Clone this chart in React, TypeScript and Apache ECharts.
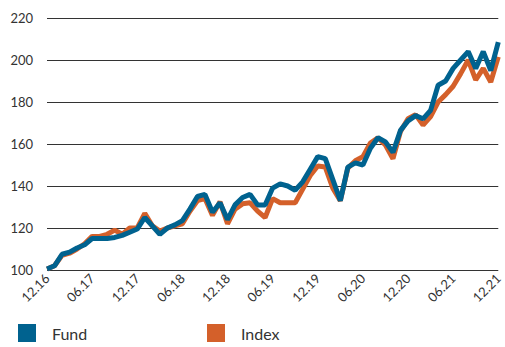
import React, { useEffect, useRef } from "react";
import * as echarts from "echarts";

const months: string[] = (() => {
  const out: string[] = [];
  for (let i = 0; i <= 60; i++) {
    const m = ((11 + i) % 12) + 1;
    const y = 16 + Math.floor((11 + i) / 12);
    out.push(String(m).padStart(2, "0") + "." + String(y));
  }
  return out;
})();

const fund: number[] = [
  100.5, 102, 107.5, 108.5, 110.5, 112, 115, 115, 115, 115.5,
  116.5, 118, 119.5, 125, 121, 117, 120, 121.5, 123.5, 129,
  135, 136, 127.5, 132, 124, 131, 134.5, 136, 131, 131,
  139, 141, 140, 138, 142, 148, 154, 153, 143, 133,
  149, 151, 150, 158, 163, 161, 156, 166.5, 171, 173.5,
  172, 176, 188, 190, 196, 200, 204, 196, 204, 195,
  208.5,
];

const index: number[] = [
  100.5, 102, 107, 108, 110, 112.5, 116, 116, 117, 119,
  117, 120, 120, 127, 121, 118.5, 120, 121, 122, 128,
  133, 134, 126, 132.5, 122, 129, 131.5, 132, 128, 125,
  134, 132, 132, 132, 138.5, 145, 149.5, 149, 139, 133,
  148.5, 152, 154, 160.5, 163, 159.5, 153, 166, 172, 174,
  169, 173, 180, 183.5, 187.5, 193.5, 200, 190.5, 196, 189.5,
  201.5,
];

const FUND_COLOR = "#00628f";
const INDEX_COLOR = "#d4602a";
const FONT = "Lato, 'Open Sans', sans-serif";

export default function App() {
  const ref = useRef<HTMLDivElement>(null);
  useEffect(() => {
    document.body.style.margin = "0";
    if (!ref.current) return;
    const chart = echarts.init(ref.current, undefined, { renderer: "svg" });
    const legendText = { fontSize: 16, color: "#333", fontFamily: FONT, padding: [0, 0, 0, 11] };
    chart.setOption({
      animation: false,
      grid: { left: 47, right: 2, top: 18, bottom: 77 },
      legend: [
        {
          data: ["Fund"],
          left: 18,
          top: 324,
          padding: 0,
          icon: "rect",
          itemWidth: 18,
          itemHeight: 18,
          textStyle: legendText,
        },
        {
          data: ["Index"],
          left: 207,
          top: 324,
          padding: 0,
          icon: "rect",
          itemWidth: 18,
          itemHeight: 18,
          textStyle: legendText,
        },
      ],
      xAxis: {
        type: "category",
        data: months,
        boundaryGap: false,
        axisLine: { show: false },
        axisTick: { show: false },
        axisLabel: {
          interval: 5,
          rotate: 45,
          fontSize: 13,
          color: "#333",
          fontFamily: FONT,
          margin: 6,
        },
      },
      yAxis: {
        type: "value",
        min: 100,
        max: 220,
        interval: 20,
        axisLine: { show: false },
        axisTick: { show: false },
        axisLabel: { fontSize: 13, color: "#333", fontFamily: FONT, margin: 14 },
        splitLine: { lineStyle: { color: "#333", width: 1 } },
      },
      series: [
        {
          name: "Index",
          type: "line",
          data: index,
          symbol: "none",
          color: INDEX_COLOR,
          lineStyle: { width: 5, color: INDEX_COLOR },
          z: 2,
        },
        {
          name: "Fund",
          type: "line",
          data: fund,
          symbol: "none",
          color: FUND_COLOR,
          lineStyle: { width: 5, color: FUND_COLOR },
          z: 3,
        },
      ],
    });
    return () => chart.dispose();
  }, []);
  return <div ref={ref} style={{ width: 505, height: 347 }} />;
}
